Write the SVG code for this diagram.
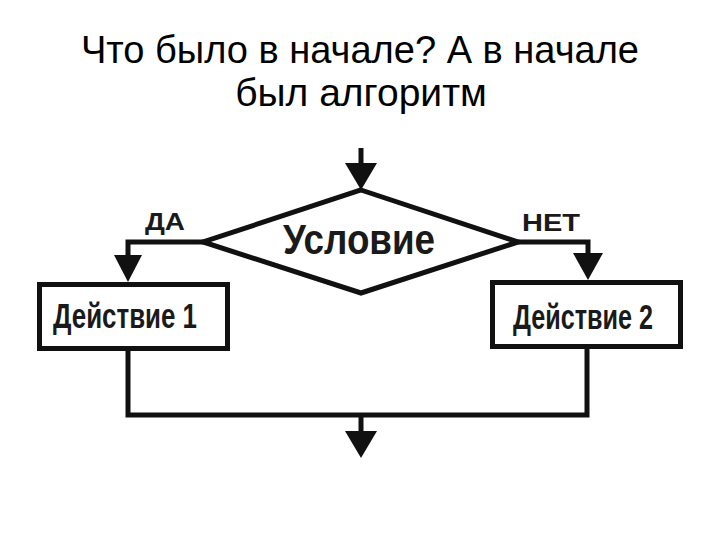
<svg xmlns="http://www.w3.org/2000/svg" width="720" height="540" viewBox="0 0 720 540">
<style>
.title{font-family:"Liberation Sans",Arial,sans-serif;font-size:39px;fill:#000;text-anchor:middle}
.lbl{font-family:"Liberation Sans",Arial,sans-serif;font-weight:bold;fill:#1a1a1a}
.shape{fill:#fff;stroke:#111;stroke-width:5}
.wire{fill:none;stroke:#111;stroke-width:5;stroke-linejoin:miter}
.head{fill:#111;stroke:none}
</style>
<rect width="720" height="540" fill="#fff"/>
<text class="title" x="360" y="63" textLength="558" lengthAdjust="spacingAndGlyphs">Что было в начале? А в начале</text>
<text class="title" x="361" y="106">был алгоритм</text>
<g id="connectors">
<path class="wire" d="M361,148 V166"/>
<polygon class="head" points="345,163 377,163 361,190"/>
<path class="wire" d="M205,242 H128 V258"/>
<polygon class="head" points="114,255 142,255 128,282"/>
<path class="wire" d="M516,242 H588 V256"/>
<polygon class="head" points="573,253 603,253 588,280"/>
<path class="wire" d="M128,349 V415 H587 V347"/>
<path class="wire" d="M361,415 V434"/>
<polygon class="head" points="345,431 377,431 361,458"/>
<text class="lbl" x="145" y="230" font-size="24" textLength="40" lengthAdjust="spacingAndGlyphs">ДА</text>
<text class="lbl" x="522" y="231" font-size="24" textLength="58" lengthAdjust="spacingAndGlyphs">НЕТ</text>
</g>
<g id="condition">
<polygon class="shape" points="361,190 518,242 361,293 203,242"/>
<text class="lbl" x="283" y="254" font-size="43" textLength="152" lengthAdjust="spacingAndGlyphs">Условие</text>
</g>
<g id="action1">
<rect class="shape" x="39.5" y="284.5" width="188" height="64"/>
<text class="lbl" x="53" y="328" font-size="35" textLength="144" lengthAdjust="spacingAndGlyphs">Действие 1</text>
</g>
<g id="action2">
<rect class="shape" x="492.5" y="282.5" width="188" height="64"/>
<text class="lbl" x="513" y="329" font-size="35" textLength="140" lengthAdjust="spacingAndGlyphs">Действие 2</text>
</g>
</svg>
